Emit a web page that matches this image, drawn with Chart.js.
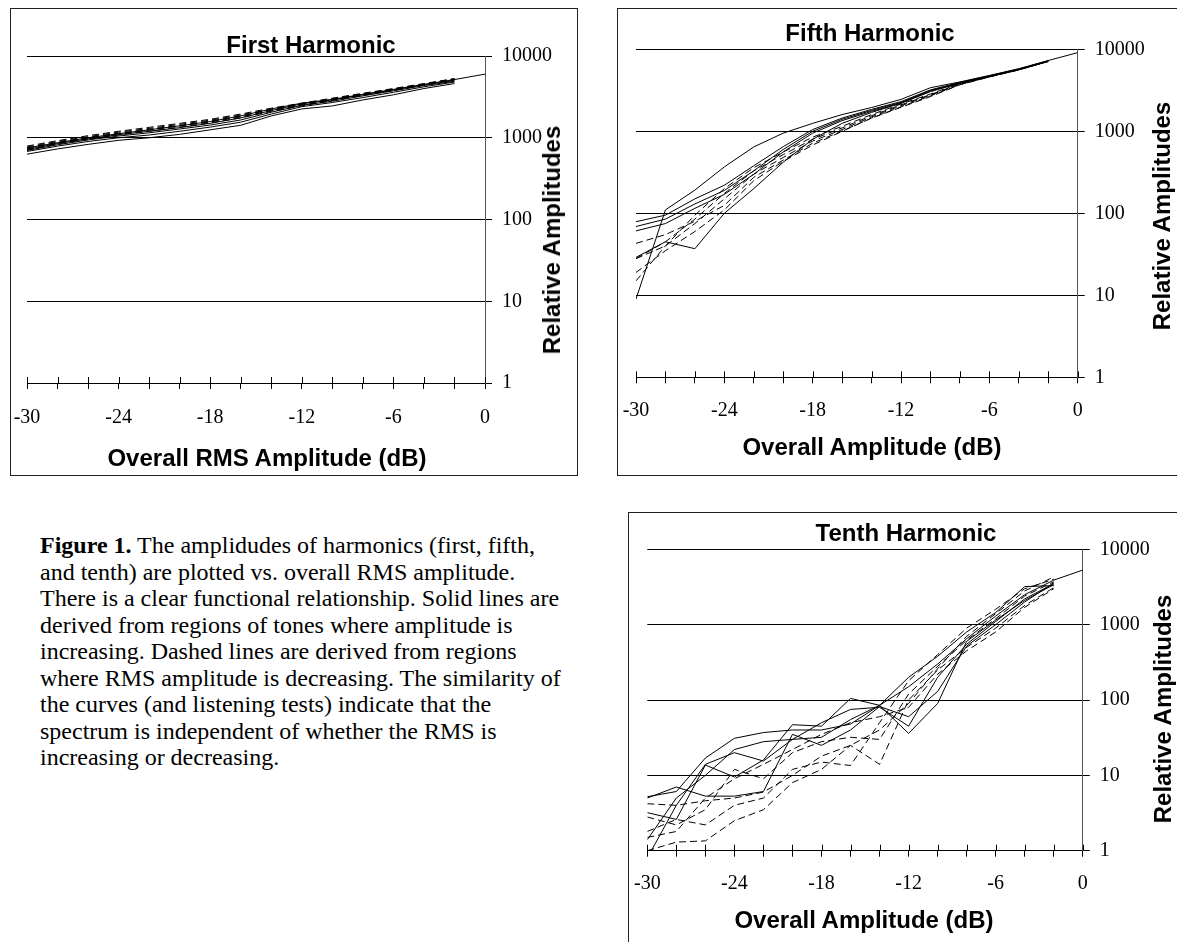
<!DOCTYPE html>
<html>
<head>
<meta charset="utf-8">
<title>Harmonic amplitudes vs overall amplitude</title>
<script src="https://cdn.jsdelivr.net/npm/chart.js@4/dist/chart.umd.min.js"></script>
<style>
  html, body { margin: 0; padding: 0; background: #fff; }
  body { width: 1177px; height: 942px; position: relative; overflow: hidden; }
  .panel { position: absolute; border: 1px solid #222; box-sizing: border-box; }
  canvas { position: absolute; }
  .lbl {
    position: absolute; white-space: nowrap; line-height: 1; color: #000;
    font-family: "Liberation Sans", Arial, sans-serif; font-weight: bold; font-size: 24px;
    transform: translate(-50%, -50%);
  }
  .lbl.vert { transform: translate(-50%, -50%) rotate(-90deg); }
  #caption {
    position: absolute; left: 40px; top: 532px; white-space: nowrap; color: #000;
    font-family: "Liberation Serif", "Times New Roman", serif; font-size: 24px; line-height: 26.5px;
  }
</style>
</head>
<body>

<div class="panel" style="left:10px;top:8px;width:568px;height:468px;"></div>
<div class="panel" style="left:617px;top:8px;width:620px;height:468px;"></div>
<div class="panel" style="left:628px;top:512px;width:620px;height:500px;"></div>

<canvas id="first" width="567" height="467" style="left:10px;top:8px;"></canvas>
<canvas id="fifth" width="559" height="467" style="left:618px;top:8px;"></canvas>
<canvas id="tenth" width="548" height="430" style="left:629px;top:512px;"></canvas>

<div class="lbl" style="left:311px;top:45px;">First Harmonic</div>
<div class="lbl" style="left:267px;top:458px;">Overall RMS Amplitude (dB)</div>
<div class="lbl vert" style="left:552px;top:240px;">Relative Amplitudes</div>

<div class="lbl" style="left:870px;top:33px;">Fifth Harmonic</div>
<div class="lbl" style="left:872px;top:447px;">Overall Amplitude (dB)</div>
<div class="lbl vert" style="left:1162px;top:216px;">Relative Amplitudes</div>

<div class="lbl" style="left:906px;top:533px;">Tenth Harmonic</div>
<div class="lbl" style="left:864px;top:920px;">Overall Amplitude (dB)</div>
<div class="lbl vert" style="left:1163px;top:709px;">Relative Amplitudes</div>

<div id="caption"><b>Figure 1.</b> The amplidudes of harmonics (first, fifth,<br>and tenth) are plotted vs. overall RMS amplitude.<br>There is a clear functional relationship. Solid lines are<br>derived from regions of tones where amplitude is<br>increasing. Dashed lines are derived from regions<br>where RMS amplitude is decreasing. The similarity of<br>the curves (and listening tests) indicate that the<br>spectrum is independent of whether the RMS is<br>increasing or decreasing.</div>

<script>
// x positions of the measurements (dB), every 2 dB
const dbLevels = [-30, -28, -26, -24, -22, -20, -18, -16, -14, -12, -10, -8, -6, -4, -2, 0];
// labelled x ticks
const dbTicks = [-30, -24, -18, -12, -6, 0];
// y decades
const ampTicks = [1, 10, 100, 1000, 10000];

// First harmonic: solid = amplitude increasing, dashed = decreasing
const firstRising = [
  [630, 730, 830, 930, 1000, 1100, 1250, 1420, 1850, 2250, 2450, 2900, 3350, 4000, 4600],
  [680, 790, 900, 1000, 1080, 1200, 1350, 1550, 1950, 2400, 2700, 3100, 3600, 4200, 4800],
  [700, 820, 940, 1050, 1150, 1280, 1430, 1650, 2050, 2500, 2800, 3250, 3750, 4350, 4900],
  [720, 850, 970, 1090, 1200, 1330, 1500, 1750, 2150, 2600, 2900, 3350, 3850, 4450, 5000],
  [750, 870, 1000, 1120, 1250, 1400, 1580, 1850, 2250, 2650, 2950, 3400, 3900, 4500, 5150, 6000]
];
const firstFalling = [
  [790, 920, 1060, 1200, 1340, 1500, 1680, 1950, 2300, 2650, 3050, 3500, 4000, 4600, 5300],
  [770, 900, 1030, 1170, 1300, 1460, 1640, 1900, 2250, 2600, 3000, 3450, 3950, 4550, 5250],
  [750, 880, 1010, 1140, 1270, 1420, 1600, 1850, 2200, 2550, 2950, 3400, 3900, 4500, 5200],
  [730, 860, 990, 1110, 1240, 1390, 1560, 1800, 2150, 2500, 2900, 3350, 3850, 4450, 5150],
  [710, 840, 960, 1080, 1200, 1350, 1520, 1750, 2100, 2450, 2850, 3300, 3800, 4400, 5100]
];

// Fifth harmonic
const fifthRising = [
  [9, 110, 192, 368, 645, 950, 1250, 1600, 1950, 2450, 3400, 4000, 4800, 5800, 7300, 9100],
  [29, 45, 37, 100, 200, 420, 800, 1250, 1700, 2200, 3100, 3900, 4700, 5700, 7200],
  [79, 95, 150, 220, 380, 650, 1050, 1450, 1850, 2300, 3200, 3950, 4750, 5750, 7250],
  [69, 85, 130, 190, 330, 600, 1000, 1400, 1800, 2250, 3150, 3900, 4700, 5700, 7200],
  [61, 75, 115, 170, 300, 560, 950, 1350, 1750, 2200, 3050, 3850, 4650, 5650, 7150]
];
const fifthFalling = [
  [43, 55, 80, 125, 275, 445, 716, 1010, 1450, 1990, 2700, 3700, 4600, 5600, 7100],
  [28, 40, 75, 150, 300, 480, 760, 1050, 1500, 2050, 2750, 3750, 4650, 5650, 7100],
  [28, 45, 85, 175, 330, 520, 800, 1100, 1550, 2100, 2800, 3800, 4650, 5650, 7150],
  [19, 35, 60, 110, 250, 430, 680, 1000, 1450, 1960, 2650, 3700, 4600, 5600, 7100],
  [15, 40, 95, 200, 360, 560, 850, 1150, 1600, 2150, 2850, 3850, 4700, 5700, 7150]
];

// Tenth harmonic
const tenthRising = [
  [5.2, 6.1, 17, 31, 37, 40, 40, 48, 85, 200, 380, 800, 1450, 3200, 3300],
  [3.2, 2.6, 13.7, 9.5, 16, 47, 45, 105, 85, 36, 90, 600, 1150, 2100, 3400],
  [0.8, 4, 14, 20, 15.5, 30, 50, 75, 80, 45, 200, 550, 1100, 2200, 3500],
  [5, 7, 5.3, 5.3, 6.1, 35, 25, 40, 82, 60, 130, 520, 1000, 2000, 3600],
  [1.4, 5, 10, 22, 28, 30, 32, 55, 85, 150, 300, 650, 1300, 2500, 3900, 5300]
];
const tenthFalling = [
  [4.2, 4, 4.6, 5, 6, 10, 18, 25, 40, 90, 260, 700, 1400, 2800, 4300],
  [1.8, 2.6, 2.2, 4, 5, 12, 15, 13.5, 50, 180, 400, 900, 1600, 3000, 4000],
  [1, 1.3, 1.35, 2.5, 3.5, 8, 12, 25, 14, 100, 250, 500, 900, 1800, 3100],
  [2.8, 2.2, 3.5, 12, 9, 20, 28, 32, 30, 120, 280, 620, 1200, 2400, 3700],
  [1.5, 1.8, 5, 9, 14, 22, 35, 50, 60, 80, 220, 450, 800, 1700, 3000]
];

const serif = '"Liberation Serif", "Times New Roman", serif';

// x-axis tick marks cross the axis line: draw the part above it
const crossTicks = {
  id: 'crossTicks',
  beforeDatasetsDraw(chart) {
    const { ctx, chartArea } = chart;
    const x = chart.scales.x;
    ctx.save();
    ctx.strokeStyle = '#000';
    ctx.lineWidth = 1;
    ctx.beginPath();
    x.ticks.forEach(t => {
      const px = Math.round(x.getPixelForValue(t.value)) + 0.5;
      ctx.moveTo(px, chartArea.bottom - 6);
      ctx.lineTo(px, chartArea.bottom);
    });
    ctx.stroke();
    ctx.restore();
  }
};

function makeChart(id, rising, falling, pad, xLabelPad) {
  const toPoints = vals => vals.map((v, i) => ({ x: dbLevels[i], y: v }));
  const line = { borderColor: '#000', borderWidth: 1, pointRadius: 0, tension: 0, fill: false };
  const datasets = [
    ...rising.map(vals => Object.assign({ data: toPoints(vals) }, line)),
    ...falling.map(vals => Object.assign({ data: toPoints(vals), borderDash: [7, 4] }, line))
  ];

  return new Chart(document.getElementById(id), {
    type: 'line',
    data: { datasets },
    options: {
      responsive: false,
      animation: false,
      events: [],
      layout: { padding: pad },
      plugins: { legend: { display: false }, tooltip: { enabled: false } },
      scales: {
        x: {
          type: 'linear', min: -30, max: 0,
          afterFit: s => { s.height = 50; s.paddingLeft = 0; s.paddingRight = 0; },
          grid: { drawOnChartArea: false, drawTicks: true, tickLength: 6, color: '#000' },
          border: { display: true, color: '#000' },
          ticks: {
            stepSize: 2, autoSkip: false, maxRotation: 0, padding: xLabelPad, color: '#000',
            font: { family: serif, size: 20 },
            callback: v => dbTicks.includes(v) ? String(v) : ''
          }
        },
        y: {
          type: 'logarithmic', position: 'right', min: 1, max: 10000,
          afterFit: s => { s.width = 80; s.paddingTop = 0; s.paddingBottom = 0; },
          afterBuildTicks: s => { s.ticks = ampTicks.map(v => ({ value: v })); },
          grid: { color: '#000', tickLength: 7 },
          border: { display: true, color: '#555' },
          ticks: {
            padding: 10, color: '#000',
            font: { family: serif, size: 20 },
            callback: v => String(v)
          }
        }
      }
    },
    plugins: [crossTicks]
  });
}

makeChart('first', firstRising, firstFalling, { left: 17, top: 48, right: 12, bottom: 42 }, 17);
makeChart('fifth', fifthRising, fifthFalling, { left: 18, top: 41.3, right: 19.3, bottom: 47.7 }, 15.4);
makeChart('tenth', tenthRising, tenthFalling, { left: 18.3, top: 37.3, right: 14.2, bottom: 41.3 }, 15.3);
</script>
</body>
</html>
